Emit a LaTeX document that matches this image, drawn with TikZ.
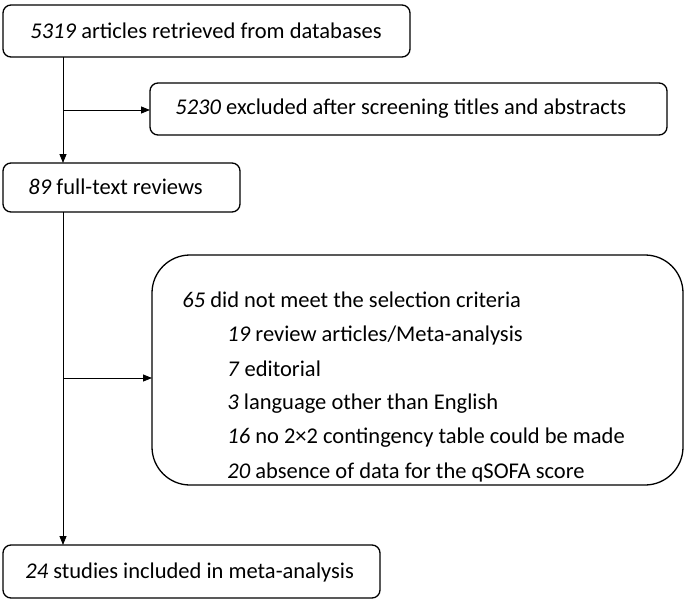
\documentclass[tikz,border=0pt]{standalone}
\usepackage{fontspec}
\setmainfont{Carlito}
\usetikzlibrary{arrows.meta,positioning}

\begin{document}
\begin{tikzpicture}[x=1pt,y=-1pt,>={Triangle[length=9pt,width=7pt]},thick,
  box/.style={draw,rounded corners=8pt,line width=1.3pt},
  txt/.style={font=\fontsize{22.5}{27}\selectfont,anchor=west,inner sep=0pt}]

  \useasboundingbox (0,0) rectangle (685,602);

  % boxes
  \draw[box] (3,5) rectangle (410,57);
  \draw[box] (150,83) rectangle (667,135);
  \draw[box] (3,163) rectangle (240,212);
  \draw[box,rounded corners=38pt] (152,255) rectangle (683,485);
  \draw[box] (3,545) rectangle (380,598);

  \node[txt] (retr) at (30,31) {\textit{5319} articles retrieved from databases};
  \node[txt] (excl) at (175,109) {\textit{5230} excluded after screening titles and abstracts};
  \node[txt] (full) at (28,187) {\textit{89} full-text reviews};
  \node[txt] (crit) at (182,300) {\textit{65} did not meet the selection criteria};
  \node[txt] (rev)  at (227,335) {\textit{19} review articles/Meta-analysis};
  \node[txt] (edit) at (227,369) {\textit{7} editorial};
  \node[txt] (lang) at (227,404) {\textit{3} language other than English};
  \node[txt] (cont) at (227,438) {\textit{16} no 2×2 contingency table could be made};
  \node[txt] (qs)   at (227,472) {\textit{20} absence of data for the qSOFA score};
  \node[txt] (incl) at (25,572) {\textit{24} studies included in meta-analysis};

  \coordinate (a1) at (63,57);
  \coordinate (a2) at (63,163);
  \coordinate (b1) at (63,212);
  \coordinate (b2) at (63,545);
  \coordinate (s1) at (63,110);
  \coordinate (s2) at (150,110);
  \coordinate (t1) at (63,378);
  \coordinate (t2) at (152,378);

  \draw[->] (a1) -- (a2);
  \draw[->] (s1) -- (s2);
  \draw[->] (b1) -- (b2);
  \draw[->] (t1) -- (t2);
\end{tikzpicture}
\end{document}
